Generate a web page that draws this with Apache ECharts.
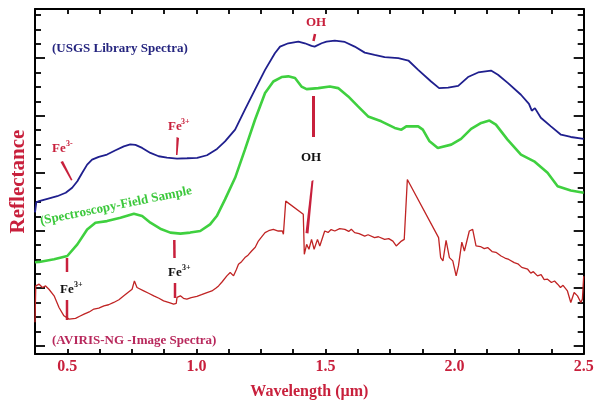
<!DOCTYPE html>
<html><head><meta charset="utf-8">
<script src="https://cdn.jsdelivr.net/npm/echarts@6/dist/echarts.min.js"></script>
<style>html,body{margin:0;padding:0;background:#fff}#c{width:598px;height:405px}</style>
</head><body><div id="c"></div>
<script>
// Wavelength (µm), relative reflectance (arbitrary offset units)
const usgsSpectrum = [[0.375,9.27],[0.380,9.97],[0.391,10.06],[0.423,10.22],[0.461,10.40],[0.494,10.64],[0.519,10.99],[0.539,11.44],[0.558,12.03],[0.577,12.60],[0.596,12.95],[0.622,13.14],[0.654,13.30],[0.687,13.60],[0.719,13.87],[0.744,14.01],[0.764,13.97],[0.790,13.76],[0.822,13.41],[0.854,13.18],[0.886,13.09],[0.925,13.02],[0.964,13.04],[1.003,13.07],[1.041,13.25],[1.080,13.69],[1.111,14.22],[1.150,15.03],[1.188,16.42],[1.227,17.81],[1.266,19.19],[1.304,20.35],[1.324,20.81],[1.356,21.04],[1.395,21.16],[1.420,21.04],[1.446,20.86],[1.458,20.81],[1.485,21.04],[1.504,21.16],[1.536,21.22],[1.575,21.13],[1.613,20.81],[1.652,20.39],[1.690,20.23],[1.729,20.07],[1.782,20.00],[1.821,19.84],[1.859,19.19],[1.909,18.38],[1.940,17.92],[1.975,17.96],[2.014,18.08],[2.052,18.69],[2.091,19.01],[2.141,19.14],[2.168,18.85],[2.207,18.27],[2.257,17.46],[2.288,16.83],[2.299,16.35],[2.311,16.53],[2.334,15.86],[2.373,15.26],[2.412,14.68],[2.450,14.52],[2.500,14.39]];
const fieldSpectrum = [[0.375,5.81],[0.391,5.83],[0.449,6.01],[0.500,6.24],[0.539,7.05],[0.577,8.09],[0.609,8.56],[0.654,8.67],[0.706,8.91],[0.758,9.18],[0.790,9.02],[0.822,8.56],[0.860,8.14],[0.899,7.87],[0.938,7.80],[0.976,7.87],[1.015,7.98],[1.053,8.44],[1.079,9.02],[1.111,10.18],[1.150,11.68],[1.188,13.64],[1.227,15.72],[1.266,17.58],[1.298,18.38],[1.330,18.69],[1.356,18.74],[1.382,18.62],[1.407,18.03],[1.427,17.85],[1.472,17.92],[1.517,18.03],[1.549,17.92],[1.588,17.34],[1.626,16.65],[1.665,15.95],[1.716,15.61],[1.768,15.15],[1.794,15.03],[1.813,15.26],[1.859,15.26],[1.877,15.03],[1.903,14.22],[1.935,13.76],[1.987,13.99],[2.025,14.39],[2.064,15.08],[2.103,15.50],[2.135,15.66],[2.160,15.38],[2.205,14.34],[2.257,13.30],[2.308,12.83],[2.360,12.03],[2.399,11.10],[2.450,10.80],[2.500,10.64]];
const avirisSpectrum = [[0.375,1.64],[0.378,4.16],[0.391,4.28],[0.404,4.05],[0.416,4.16],[0.429,3.93],[0.449,3.47],[0.468,2.66],[0.487,2.08],[0.507,1.85],[0.532,1.90],[0.548,2.05],[0.565,2.20],[0.585,2.35],[0.603,2.55],[0.622,2.62],[0.642,2.77],[0.660,2.85],[0.680,3.01],[0.700,3.20],[0.719,3.47],[0.735,3.70],[0.751,3.93],[0.760,4.51],[0.770,4.05],[0.796,3.82],[0.815,3.65],[0.835,3.47],[0.855,3.30],[0.873,3.12],[0.895,3.00],[0.912,2.89],[0.922,2.95],[0.925,3.36],[0.938,3.47],[0.950,3.30],[0.963,3.24],[0.980,3.35],[1.002,3.43],[1.020,3.55],[1.041,3.70],[1.060,3.81],[1.075,4.00],[1.086,4.16],[1.100,4.45],[1.118,4.86],[1.131,5.09],[1.144,4.86],[1.155,5.30],[1.163,5.67],[1.175,5.85],[1.188,6.13],[1.200,6.30],[1.214,6.59],[1.228,6.85],[1.240,7.28],[1.252,7.55],[1.266,7.87],[1.280,8.00],[1.298,8.09],[1.317,7.98],[1.333,7.98],[1.337,7.75],[1.346,10.06],[1.414,9.14],[1.418,6.36],[1.427,7.05],[1.436,6.71],[1.446,7.40],[1.456,6.71],[1.469,7.40],[1.478,6.94],[1.497,7.98],[1.510,7.88],[1.522,8.08],[1.536,7.98],[1.555,8.15],[1.575,8.09],[1.590,7.95],[1.600,8.10],[1.613,7.87],[1.630,7.80],[1.652,7.63],[1.665,7.72],[1.690,7.52],[1.705,7.58],[1.729,7.40],[1.745,7.45],[1.761,7.28],[1.774,6.94],[1.794,7.28],[1.805,7.40],[1.817,11.56],[1.938,7.52],[1.946,6.13],[1.955,5.90],[1.967,7.33],[1.980,6.13],[1.993,5.90],[2.006,4.86],[2.015,5.55],[2.028,7.21],[2.038,6.59],[2.057,7.98],[2.070,8.09],[2.083,6.94],[2.100,6.90],[2.115,6.75],[2.128,6.83],[2.145,6.55],[2.160,6.50],[2.180,6.24],[2.195,6.10],[2.210,6.00],[2.231,5.78],[2.245,5.70],[2.260,5.45],[2.283,5.32],[2.295,5.05],[2.305,5.15],[2.321,4.86],[2.335,4.95],[2.347,4.60],[2.360,4.63],[2.375,4.40],[2.387,4.50],[2.399,4.28],[2.410,4.05],[2.420,4.20],[2.437,3.81],[2.450,3.01],[2.463,3.70],[2.476,3.47],[2.489,3.01],[2.495,3.24],[2.500,4.83]];
const xTickLabels = ['0.5','1.0','1.5','2.0','2.5'];
const yMajorTicks = [0,4,8,12,16,20];
const yMinorTicks = [1,2,3,5,6,7,9,10,11,13,14,15,17,18,19,21,22,23];

const FONT = 'Liberation Serif';
const RED = '#c8203c';
const chart = echarts.init(document.getElementById('c'), null, {renderer:'canvas'});
const axisLine = {show:true, onZero:false, lineStyle:{color:'#000', width:2}};
function yAx(pos, ticks, len, line){
  return {type:'value', position:pos, min:-0.576, max:23.424,
    axisLine: line ? axisLine : {show:false, onZero:false},
    axisTick:{show:true, inside:true, length:len, customValues:ticks, lineStyle:{color:'#000', width:1.8}},
    axisLabel:{show:false}, splitLine:{show:false}};
}
const option = {
  animation:false,
  backgroundColor:'#fff',
  grid:{left:32.6, right:14.3, top:9, bottom:50, containLabel:false},
  xAxis:[
    {type:'value', position:'bottom', min:0.375, max:2.5, interval:0.125,
     axisLine:axisLine,
     axisTick:{show:true, inside:true, length:5, lineStyle:{color:'#000', width:1.8}},
     axisLabel:{show:true, margin:5, showMaxLabel:true, color:RED, fontFamily:FONT, fontWeight:'bold', fontSize:16,
       formatter:v=>{const s=v.toFixed(1); return (Math.abs(v*2-Math.round(v*2))<1e-6 && xTickLabels.includes(s))?s:'';}},
     splitLine:{show:false},
     name:'Wavelength (µm)', nameLocation:'middle', nameGap:30,
     nameTextStyle:{color:RED, fontFamily:FONT, fontWeight:'bold', fontSize:16}},
    {type:'value', position:'top', min:0.375, max:2.5, interval:0.125,
     axisLine:axisLine,
     axisTick:{show:true, inside:true, length:5, lineStyle:{color:'#000', width:1.8}},
     axisLabel:{show:false}, splitLine:{show:false}}
  ],
  yAxis:[
    Object.assign(yAx('left', yMajorTicks, 10, true), {name:'Reflectance', nameLocation:'middle', nameGap:6, nameRotate:90,
      nameTextStyle:{color:RED, fontFamily:FONT, fontWeight:'bold', fontSize:21}}),
    yAx('left', yMinorTicks, 6, false),
    yAx('right', yMajorTicks, 10, true),
    yAx('right', yMinorTicks, 6, false)
  ],
  series:[
    {type:'line', data:usgsSpectrum, showSymbol:false, symbol:'none', lineStyle:{color:'#1f1f8e', width:1.8}, z:3},
    {type:'line', data:fieldSpectrum, showSymbol:false, symbol:'none', lineStyle:{color:'#3fd03f', width:2.6}, z:3},
    {type:'line', data:avirisSpectrum, showSymbol:false, symbol:'none', lineStyle:{color:'#c02424', width:1.3}, z:3}
  ],
  graphic:[
    {type:'text', left:52, top:42, style:{text:'(USGS Library Spectra)', fill:'#25257f', font:'bold 13px "Liberation Serif"'}},
    {type:'text', left:52, top:334, style:{text:'(AVIRIS-NG -Image Spectra)', fill:'#b8285c', font:'bold 13px "Liberation Serif"'}},
    {type:'text', x:116, y:206, rotation:0.2, style:{text:'(Spectroscopy-Field Sample', fill:'#3cc83c', font:'bold 13px "Liberation Serif"', align:'center', verticalAlign:'middle'}},
    // top OH
    {type:'text', x:316, y:23, style:{text:'OH', fill:RED, font:'bold 13px "Liberation Serif"', align:'center', verticalAlign:'middle'}},
    {type:'line', shape:{x1:315,y1:34,x2:313.5,y2:41}, style:{stroke:RED, lineWidth:2.5}},
    // Fe left top
    {type:'text', x:52, y:155, style:{text:'Fe', fill:RED, font:'bold 13px "Liberation Serif"', verticalAlign:'bottom'}},
    {type:'text', x:66, y:148, style:{text:'3-', fill:RED, font:'bold 8px "Liberation Serif"', verticalAlign:'bottom'}},
    {type:'polygon', shape:{points:[[60.5,162],[63,161],[72.5,180],[71,180.5]]}, style:{fill:RED}},
    // Fe middle top
    {type:'text', x:168, y:133, style:{text:'Fe', fill:RED, font:'bold 13px "Liberation Serif"', verticalAlign:'bottom'}},
    {type:'text', x:181, y:126, style:{text:'3+', fill:RED, font:'bold 8px "Liberation Serif"', verticalAlign:'bottom'}},
    {type:'polygon', shape:{points:[[176.5,137],[179,138],[177.5,155],[176,155]]}, style:{fill:RED}},
    // OH middle
    {type:'line', shape:{x1:313.5,y1:96,x2:313.5,y2:137}, style:{stroke:RED, lineWidth:3}},
    {type:'text', x:311, y:158, style:{text:'OH', fill:'#111', font:'bold 13px "Liberation Serif"', align:'center', verticalAlign:'middle'}},
    {type:'polygon', shape:{points:[[305.5,233],[308.5,233.5],[313.5,180],[311.5,181]]}, style:{fill:RED}},
    // Fe lower left
    {type:'line', shape:{x1:67,y1:258,x2:67,y2:272}, style:{stroke:RED, lineWidth:2.5}},
    {type:'text', x:60, y:296, style:{text:'Fe', fill:'#111', font:'bold 13px "Liberation Serif"', verticalAlign:'bottom'}},
    {type:'text', x:74, y:289, style:{text:'3+', fill:'#111', font:'bold 8px "Liberation Serif"', verticalAlign:'bottom'}},
    {type:'line', shape:{x1:67,y1:300,x2:67,y2:320}, style:{stroke:RED, lineWidth:2.5}},
    // Fe lower middle
    {type:'line', shape:{x1:174.3,y1:240,x2:174.5,y2:258}, style:{stroke:RED, lineWidth:2.5}},
    {type:'text', x:168, y:279, style:{text:'Fe', fill:'#111', font:'bold 13px "Liberation Serif"', verticalAlign:'bottom'}},
    {type:'text', x:182, y:272, style:{text:'3+', fill:'#111', font:'bold 8px "Liberation Serif"', verticalAlign:'bottom'}},
    {type:'line', shape:{x1:175,y1:283,x2:175,y2:298}, style:{stroke:RED, lineWidth:2.5}}
  ]
};
chart.setOption(option);
</script></body></html>
